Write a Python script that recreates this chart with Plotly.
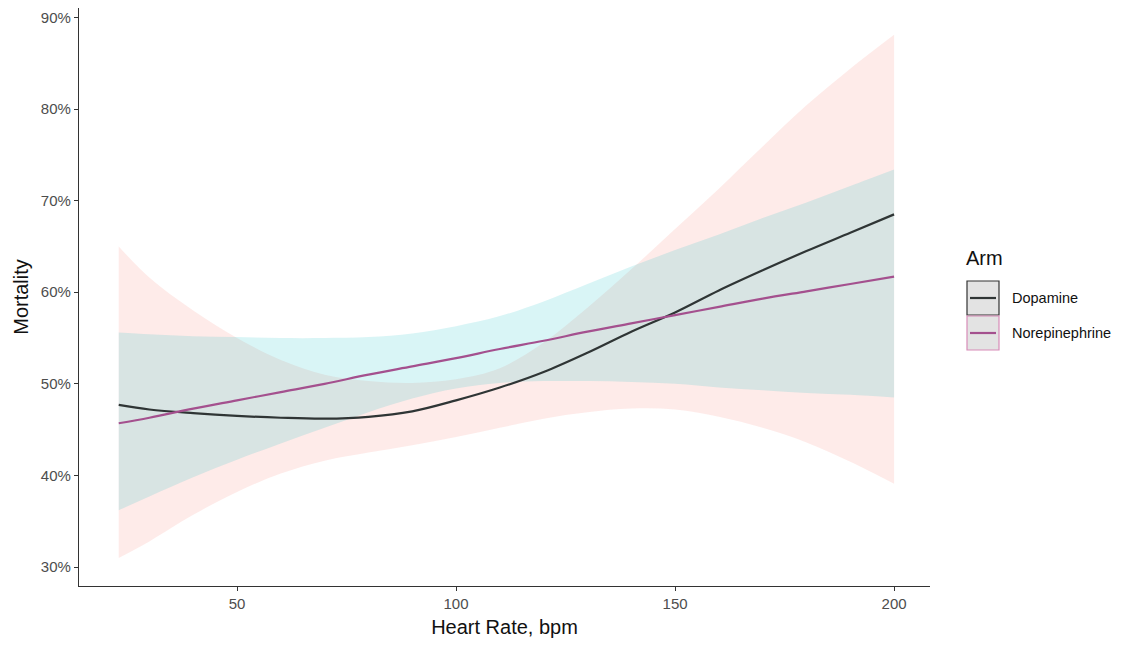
import plotly.graph_objects as go

# ---- data ----
heart_rate = [23, 30, 40, 50, 60, 70, 80, 90, 100, 110, 120, 130, 140, 150, 160, 170, 180, 190, 200]

dopa_fit   = [47.7, 47.2, 46.8, 46.5, 46.3, 46.2, 46.4, 47.0, 48.2, 49.6, 51.3, 53.4, 55.7, 57.8, 60.2, 62.4, 64.5, 66.5, 68.5]
dopa_lower = [31.0, 32.8, 35.7, 38.2, 40.2, 41.6, 42.5, 43.3, 44.2, 45.2, 46.2, 46.9, 47.3, 47.2, 46.4, 45.2, 43.6, 41.5, 39.1]
dopa_upper = [65.0, 61.6, 58.0, 55.0, 52.6, 51.0, 50.3, 50.1, 50.5, 51.7, 54.5, 58.3, 62.5, 66.9, 71.3, 75.9, 80.4, 84.4, 88.1]

nore_fit   = [45.7, 46.3, 47.3, 48.2, 49.1, 50.0, 51.0, 51.9, 52.8, 53.8, 54.7, 55.7, 56.6, 57.5, 58.4, 59.3, 60.1, 60.9, 61.7]
nore_lower = [36.2, 37.7, 39.8, 41.7, 43.5, 45.2, 46.9, 48.4, 49.5, 50.1, 50.3, 50.3, 50.2, 50.0, 49.6, 49.3, 49.0, 48.8, 48.5]
nore_upper = [55.6, 55.4, 55.2, 55.1, 55.0, 55.0, 55.1, 55.5, 56.3, 57.4, 59.0, 60.9, 62.8, 64.6, 66.3, 68.1, 69.8, 71.6, 73.4]

arms = ["Dopamine", "Norepinephrine"]
x_ticks = [50, 100, 150, 200]
y_ticks = [30, 40, 50, 60, 70, 80, 90]

# ---- styles ----
DOPA_LINE = "#2f3535"
NORE_LINE = "#a4508e"
DOPA_FILL = "rgba(248,118,109,0.15)"
NORE_FILL = "rgba(0,191,196,0.15)"
FONT = "Arial, Liberation Sans, sans-serif"

fig = go.Figure()

# ribbons
fig.add_trace(go.Scatter(x=heart_rate, y=dopa_lower, mode="lines", line=dict(width=0),
                         showlegend=False, hoverinfo="skip", line_shape="spline"))
fig.add_trace(go.Scatter(x=heart_rate, y=dopa_upper, mode="lines", line=dict(width=0),
                         fill="tonexty", fillcolor=DOPA_FILL, showlegend=False,
                         hoverinfo="skip", line_shape="spline"))
fig.add_trace(go.Scatter(x=heart_rate, y=nore_lower, mode="lines", line=dict(width=0),
                         showlegend=False, hoverinfo="skip", line_shape="spline"))
fig.add_trace(go.Scatter(x=heart_rate, y=nore_upper, mode="lines", line=dict(width=0),
                         fill="tonexty", fillcolor=NORE_FILL, showlegend=False,
                         hoverinfo="skip", line_shape="spline"))

# fitted lines
fig.add_trace(go.Scatter(x=heart_rate, y=dopa_fit, mode="lines", name=arms[0],
                         line=dict(color=DOPA_LINE, width=2.2, shape="spline"), showlegend=False))
fig.add_trace(go.Scatter(x=heart_rate, y=nore_fit, mode="lines", name=arms[1],
                         line=dict(color=NORE_LINE, width=2.2, shape="spline"), showlegend=False))

fig.update_layout(
    width=1132, height=647,
    margin=dict(l=79, r=202, t=8, b=61),
    paper_bgcolor="white", plot_bgcolor="white",
    font=dict(family=FONT, color="#4d4d4d"),
    showlegend=False,
)

fig.update_xaxes(
    range=[13.93, 208.2], tickvals=x_ticks, ticktext=[str(v) for v in x_ticks],
    showgrid=False, zeroline=False,
    showline=True, linecolor="#333333", linewidth=1.2,
    ticks="outside", ticklen=4, tickcolor="#333333", tickwidth=1.2,
    tickfont=dict(size=15, color="#4d4d4d", family=FONT),
    title=dict(text="Heart Rate, bpm", font=dict(size=20, color="#111111", family=FONT), standoff=8),
)
fig.update_yaxes(
    range=[27.93, 91.03], tickvals=y_ticks, ticktext=[f"{v}%" for v in y_ticks],
    showgrid=False, zeroline=False,
    showline=True, linecolor="#333333", linewidth=1.2,
    ticks="outside", ticklen=4, tickcolor="#333333", tickwidth=1.2,
    tickfont=dict(size=15, color="#4d4d4d", family=FONT),
    title=dict(text="Mortality", font=dict(size=20, color="#111111", family=FONT), standoff=6),
)

# ---- manual legend (paper coords) ----
def px_x(p):
    return (p - 79) / 851.0

def px_y(p):
    return (586 - p) / 578.0

fig.add_annotation(x=px_x(964), y=px_y(258), xref="paper", yref="paper", text="Arm",
                   showarrow=False, xanchor="left", yanchor="middle",
                   font=dict(size=20, color="#111111", family=FONT))

legend_items = [
    (arms[0], DOPA_LINE, "#333333", 281, 315),
    (arms[1], NORE_LINE, "#d88cb8", 316, 350),
]
for name, lc, bc, top, bot in legend_items:
    fig.add_shape(type="rect", xref="paper", yref="paper",
                  x0=px_x(967), x1=px_x(999), y0=px_y(bot), y1=px_y(top),
                  fillcolor="#e3e3e3", line=dict(color=bc, width=1.2))
    cy = (top + bot) / 2
    fig.add_shape(type="line", xref="paper", yref="paper",
                  x0=px_x(970), x1=px_x(996), y0=px_y(cy), y1=px_y(cy),
                  line=dict(color=lc, width=2.2))
    fig.add_annotation(x=px_x(1010), y=px_y(cy), xref="paper", yref="paper", text=name,
                       showarrow=False, xanchor="left", yanchor="middle",
                       font=dict(size=14.5, color="#111111", family=FONT))

fig.write_html("out.html")
